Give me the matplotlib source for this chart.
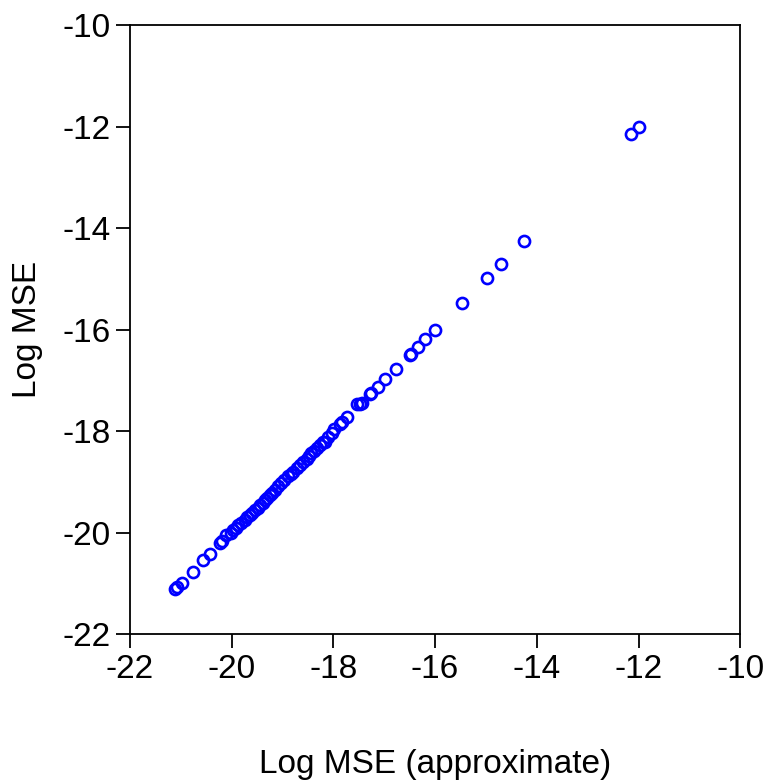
import matplotlib.pyplot as plt

# Log MSE (approximate) vs Log MSE
x_approx = [-21.12, -21.08, -20.98, -20.76, -20.57, -20.43, -20.22, -20.18, -20.10,
            -20.02, -19.97, -19.92, -19.87, -19.82, -19.74, -19.69, -19.64, -19.59,
            -19.54, -19.49, -19.44, -19.39, -19.34, -19.30, -19.25, -19.20, -19.15,
            -19.08, -19.02, -18.96, -18.89, -18.84, -18.79, -18.72, -18.66, -18.60,
            -18.52, -18.47, -18.43, -18.38, -18.33, -18.27, -18.21, -18.16, -18.10,
            -18.03, -17.98, -17.87, -17.82, -17.74, -17.54, -17.48, -17.44, -17.28,
            -17.25, -17.13, -16.98, -16.77, -16.50, -16.47, -16.33, -16.20, -16.00,
            -15.48, -14.98, -14.71, -14.25, -12.15, -12.00]
y_mse = [-21.10, -21.08, -20.99, -20.77, -20.54, -20.42, -20.21, -20.17, -20.05,
         -20.00, -19.95, -19.90, -19.85, -19.80, -19.75, -19.70, -19.66, -19.61,
         -19.56, -19.51, -19.46, -19.41, -19.36, -19.31, -19.26, -19.21, -19.16,
         -19.09, -19.03, -18.96, -18.89, -18.85, -18.80, -18.73, -18.67, -18.61,
         -18.54, -18.48, -18.44, -18.39, -18.34, -18.28, -18.22, -18.21, -18.11,
         -18.03, -17.96, -17.85, -17.82, -17.73, -17.47, -17.46, -17.45, -17.27,
         -17.25, -17.14, -16.98, -16.78, -16.50, -16.49, -16.34, -16.19, -16.01,
         -15.48, -14.98, -14.71, -14.26, -12.14, -12.00]
ticks = [-22, -20, -18, -16, -14, -12, -10]

plt.rcParams['font.family'] = ['Liberation Sans', 'DejaVu Sans']
plt.rcParams['axes.unicode_minus'] = False

fig = plt.figure(figsize=(7.68, 7.82), dpi=100)
ax = fig.add_axes([0.169, 0.189, 0.795, 0.779])

ax.plot(x_approx, y_mse, linestyle='none', marker='o', markersize=8,
        markerfacecolor='none', markeredgecolor='#0000ff', markeredgewidth=1.9)

ax.set_xlim(-22, -10)
ax.set_ylim(-22, -10)
ax.set_xticks(ticks)
ax.set_yticks(ticks)
ax.tick_params(direction='out', length=10, width=1.3, labelsize=24, pad=4)
for s in ax.spines.values():
    s.set_linewidth(1.3)

ax.set_xlabel('Log MSE (approximate)', fontsize=24, labelpad=46)
ax.set_ylabel('Log MSE', fontsize=24, labelpad=14)

fig.savefig('out.png', dpi=100)
